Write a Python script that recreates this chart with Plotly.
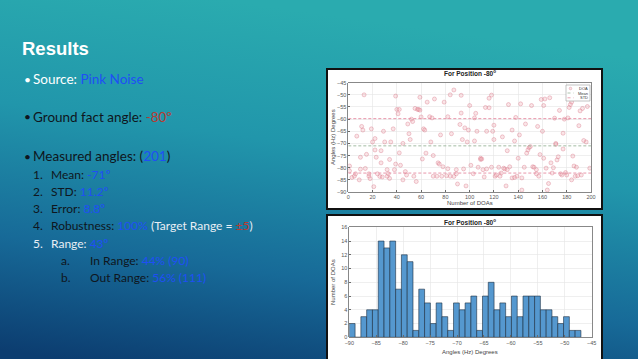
import base64
import plotly.graph_objects as go

# ---------------- data ----------------
doa_idx = [1, 1, 3, 5, 6, 7, 9, 10, 10, 11, 12, 13, 14, 15, 17, 17, 18, 19, 20, 21,
           22, 22, 23, 24, 26, 27, 27, 28, 29, 30, 32, 32, 33, 34, 34, 35, 37, 38, 39, 39,
           40, 41, 42, 42, 43, 45, 45, 47, 48, 49, 50, 51, 52, 53, 54, 55, 56, 57, 58, 59,
           59, 60, 61, 62, 63, 64, 65, 67, 68, 69, 70, 70, 71, 73, 74, 75, 76, 77, 78, 79,
           81, 82, 82, 84, 84, 85, 87, 87, 89, 89, 90, 92, 93, 93, 94, 95, 96, 97, 98, 99,
           100, 101, 103, 104, 104, 105, 106, 107, 109, 109, 110, 111, 112, 113, 114, 114, 116, 116, 118, 118,
           119, 120, 120, 121, 122, 124, 125, 126, 127, 128, 129, 130, 131, 131, 132, 133, 135, 135, 137, 137,
           138, 139, 140, 141, 142, 143, 143, 145, 146, 147, 148, 149, 150, 151, 152, 153, 155, 155, 156, 157,
           158, 159, 160, 161, 161, 162, 163, 164, 165, 166, 167, 168, 169, 170, 171, 171, 172, 173, 174, 175,
           176, 177, 177, 178, 179, 180, 181, 182, 183, 184, 184, 185, 186, 187, 188, 189, 190, 191, 192, 193,
           194, 196, 197, 199]
doa_deg = [-81.3, -79.3, -84.0, -83.5, -82.5, -67.0, -85.0, -75.7, -80.6, -63.0, -64.5, -50.0, -80.3, -74.5, -83.5, -82.5, -84.5, -64.0, -69.4, -87.8,
           -68.0, -72.7, -75.7, -82.5, -83.6, -78.0, -73.0, -83.8, -65.0, -69.4, -83.5, -80.8, -82.5, -84.4, -76.6, -69.4, -64.0, -80.8, -78.5, -50.5,
           -56.0, -57.8, -56.0, -73.9, -79.0, -85.0, -70.0, -81.6, -83.0, -62.0, -66.0, -68.4, -60.0, -61.0, -83.5, -55.6, -85.7, -56.0, -56.0, -51.0,
           -56.3, -59.1, -76.4, -64.0, -64.5, -74.0, -53.0, -59.0, -69.4, -59.5, -75.0, -83.5, -51.7, -83.5, -78.0, -78.5, -66.5, -83.5, -79.6, -53.0,
           -83.3, -59.0, -80.4, -50.0, -83.5, -66.0, -83.6, -48.0, -80.8, -82.5, -86.7, -62.2, -50.2, -57.5, -68.4, -80.5, -63.6, -87.5, -69.4, -64.5,
           -54.4, -79.0, -82.5, -69.0, -59.5, -57.6, -65.0, -79.8, -76.1, -76.6, -76.4, -80.8, -83.8, -55.2, -80.5, -65.0, -51.4, -55.3, -79.8, -50.1,
           -65.0, -68.4, -62.5, -83.5, -83.0, -79.8, -83.5, -82.2, -67.3, -80.2, -80.5, -87.5, -73.0, -80.8, -54.0, -79.6, -64.5, -84.2, -84.0, -69.0,
           -59.3, -83.5, -76.1, -66.5, -53.7, -89.2, -84.2, -79.8, -62.0, -74.0, -72.7, -71.7, -71.3, -54.4, -79.6, -79.8, -82.5, -80.8, -63.0, -83.5,
           -74.6, -51.9, -65.0, -76.1, -54.4, -51.7, -80.2, -89.2, -86.5, -51.2, -78.0, -82.2, -80.0, -59.6, -70.0, -70.4, -76.8, -75.5, -56.4, -82.5,
           -83.0, -65.8, -72.3, -60.0, -82.0, -83.0, -59.5, -55.2, -54.0, -53.0, -85.0, -75.2, -79.3, -83.5, -79.8, -83.3, -62.7, -56.6, -83.0, -55.6,
           -68.8, -69.4, -54.8, -80.2]
doa_mean = -71.0
doa_std = 11.2

hist_counts = [2, 0, 3, 4, 4, 14, 13, 14, 7, 12, 11, 1, 7, 5, 2, 5, 3, 1, 5, 4,
               5, 6, 1, 6, 8, 4, 5, 3, 6, 3, 6, 6, 6, 4, 4, 3, 2, 3, 1, 1]
hist_start = -90.0
hist_width = 43.0 / 40

scatter_xticks = [0, 20, 40, 60, 80, 100, 120, 140, 160, 180, 200]
scatter_yticks = [-90, -85, -80, -75, -70, -65, -60, -55, -50, -45]
hist_xticks = [-90, -85, -80, -75, -70, -65, -60, -55, -50, -45]
hist_yticks = [0, 2, 4, 6, 8, 10, 12, 14, 16]
legend_names = ["DOA", "Mean", "STD"]

# ---------------- layout helpers ----------------
W, H = 638, 359
def px(x):
    return x / W
def py(y):
    return 1 - y / H

BLUE = "#1f4ff5"
RED = "#b83a32"
DARK = "#0f1620"
WHITE = "#ffffff"
LIGHT = "#e8eef5"
DOA_FILL = "rgba(238,160,170,0.28)"
DOA_LINE = "rgba(214,110,128,0.6)"
MEAN_COL = "#9ab59a"
STD_COL = "#e58aa0"

fig = go.Figure()

# scatter
fig.add_trace(go.Scatter(
    x=doa_idx, y=doa_deg, mode="markers", name=legend_names[0],
    marker=dict(symbol="circle", size=4, color=DOA_FILL,
                line=dict(color=DOA_LINE, width=0.6)),
    xaxis="x", yaxis="y"))
fig.add_trace(go.Scatter(
    x=[0, 200], y=[doa_mean, doa_mean], mode="lines", name=legend_names[1],
    line=dict(color=MEAN_COL, width=0.9, dash="3px,2px"), xaxis="x", yaxis="y"))
fig.add_trace(go.Scatter(
    x=[0, 200, None, 0, 200],
    y=[doa_mean + doa_std, doa_mean + doa_std, None, doa_mean - doa_std, doa_mean - doa_std],
    mode="lines", name=legend_names[2],
    line=dict(color=STD_COL, width=0.9, dash="3px,2px"), xaxis="x", yaxis="y"))

# histogram
centers = [hist_start + (i + 0.5) * hist_width for i in range(len(hist_counts))]
fig.add_trace(go.Bar(
    x=centers, y=hist_counts, width=hist_width,
    marker=dict(color="#5598cf", line=dict(color="#1b2e40", width=0.6)),
    xaxis="x2", yaxis="y2"))

axis_common = dict(showgrid=True, gridcolor="#e4e4e4", gridwidth=0.6,
                   showline=True, linecolor="#6a6a6a", linewidth=0.8, mirror=True,
                   ticks="inside", ticklen=2, tickcolor="#6a6a6a", zeroline=False,
                   automargin=False,
                   tickfont=dict(family="Liberation Sans", size=5.5, color="#555555"))

fig.update_layout(
    template="none",
    width=W, height=H, margin=dict(l=0, r=0, t=0, b=0, pad=0, autoexpand=False),
    paper_bgcolor="#1b7c9c", plot_bgcolor="#ffffff",
    bargap=0,
    showlegend=False,
    xaxis=dict(domain=[px(348.3), px(591)], range=[0, 200], tickvals=scatter_xticks,
               anchor="y", **axis_common),
    yaxis=dict(domain=[py(192), py(82.7)], range=[-90, -45], tickvals=scatter_yticks,
               anchor="x", **axis_common),
    xaxis2=dict(domain=[px(349.3), px(591.7)], range=[-90, -45], tickvals=hist_xticks,
                anchor="y2", **axis_common),
    yaxis2=dict(domain=[py(337.3), py(227.3)], range=[0, 16], tickvals=hist_yticks,
                anchor="x2", **axis_common),
)

# background gradient
svg = ('<svg xmlns="http://www.w3.org/2000/svg" width="638" height="359">'
       '<defs><linearGradient id="g" x1="0.35" y1="0" x2="0.1" y2="1">'
       '<stop offset="0" stop-color="#2aabaf"/>'
       '<stop offset="0.35" stop-color="#2196ab"/>'
       '<stop offset="0.7" stop-color="#176a98"/>'
       '<stop offset="1" stop-color="#0c3d70"/>'
       '</linearGradient></defs>'
       '<rect width="638" height="359" fill="url(#g)"/></svg>')
src = "data:image/svg+xml;base64," + base64.b64encode(svg.encode()).decode()
fig.add_layout_image(dict(source=src, xref="paper", yref="paper", x=0, y=1,
                          sizex=1, sizey=1, xanchor="left", yanchor="top",
                          sizing="stretch", layer="below"))

# white chart frames
for (x0, y0, x1, y1) in [(327, 69, 602, 209), (327, 215, 602, 362)]:
    fig.add_shape(type="rect", xref="paper", yref="paper",
                  x0=px(x0), x1=px(x1), y0=py(y1), y1=py(y0),
                  fillcolor="#ffffff", line=dict(color="#111111", width=2), layer="below")

def ann(x, y, text, size, color=WHITE, family="Lato", xanchor="left", angle=0, **kw):
    fig.add_annotation(x=px(x), y=py(y), xref="paper", yref="paper", text=text,
                       showarrow=False, xanchor=xanchor, yanchor="middle", textangle=angle,
                       borderpad=0, font=dict(family=family, size=size, color=color), **kw)

# manual compact legend (MATLAB style) for the scatter chart
lx0, ly0, lx1, ly1 = 566, 85, 590, 101
fig.add_shape(type="rect", xref="paper", yref="paper", x0=px(lx0), x1=px(lx1),
              y0=py(ly1), y1=py(ly0), fillcolor="#ffffff",
              line=dict(color="#9a9a9a", width=0.6))
fig.add_shape(type="circle", xref="paper", yref="paper", x0=px(569.2), x1=px(571.8),
              y0=py(89.8), y1=py(87.2), fillcolor=DOA_FILL, line=dict(color=DOA_LINE, width=0.6))
fig.add_shape(type="line", xref="paper", yref="paper", x0=px(567.5), x1=px(574),
              y0=py(93), y1=py(93), line=dict(color=MEAN_COL, width=0.8, dash="dot"))
fig.add_shape(type="line", xref="paper", yref="paper", x0=px(567.5), x1=px(574),
              y0=py(97.8), y1=py(97.8), line=dict(color=STD_COL, width=0.8, dash="dot"))
for i, nm in enumerate(legend_names):
    ann(589, 88.5 + i * 4.7, nm, 4, "#333333", "Liberation Sans", "right")

# chart titles & axis labels
ann(470, 73, "<b>For Position -80<sup>o</sup></b>", 6.5, "#222222", "Liberation Sans", "center")
ann(470, 203, "Number of DOAs", 6, "#444444", "Liberation Sans", "center")
ann(333, 137, "Angles (Hz) Degrees", 6, "#444444", "Liberation Sans", "center", angle=-90)
ann(470, 222, "<b>For Position -80<sup>o</sup></b>", 6.5, "#222222", "Liberation Sans", "center")
ann(470, 352, "Angles (Hz) Degrees", 6, "#444444", "Liberation Sans", "center")
ann(333, 282, "Number of DOAs", 6, "#444444", "Liberation Sans", "center", angle=-90)

# slide text
ann(21, 49, "<b>Results</b>", 18.5, WHITE, "Liberation Sans")
ann(23, 79, "•", 12, WHITE)
ann(32, 79, f"Source: <span style='color:{BLUE}'>Pink Noise</span>", 13.5, WHITE)
ann(23, 117, "•", 12, DARK)
ann(32, 117, f"Ground fact angle: <span style='color:{RED}'>-80º</span>", 13.5, DARK)
ann(23, 156, "•", 12, DARK)
ann(32, 156, f"Measured angles: (<span style='color:{BLUE}'>201</span>)", 13.5, DARK)

items = [
    (174, "1.", f"Mean: <span style='color:{BLUE}'>-71º</span>", DARK),
    (191, "2.", f"STD: <span style='color:{BLUE}'>11.2º</span>", DARK),
    (208, "3.", f"Error: <span style='color:{BLUE}'>8.8º</span>", DARK),
    (225, "4.", f"Robustness: <span style='color:{BLUE}'>100%</span> "
               f"<span style='color:{LIGHT}'>(Target Range = </span><span style='color:{RED}'>±5</span>"
               f"<span style='color:{LIGHT}'>)</span>", DARK),
    (243, "5.", f"Range: <span style='color:{BLUE}'>43º</span>", LIGHT),
]
for y, num, txt, col in items:
    ann(32, y, num, 12, col)
    ann(50, y, txt, 12, col)

ann(60, 260, "a.", 12, DARK)
ann(89, 260, f"In Range: <span style='color:{BLUE}'>44% (90)</span>", 12, DARK)
ann(60, 277, "b.", 12, DARK)
ann(89, 277, f"Out Range: <span style='color:{BLUE}'>56% (111)</span>", 12, DARK)

fig.write_html("out.html", config={"displayModeBar": False, "staticPlot": True},
               post_script="document.body.style.margin='0';document.body.style.overflow='hidden';")
